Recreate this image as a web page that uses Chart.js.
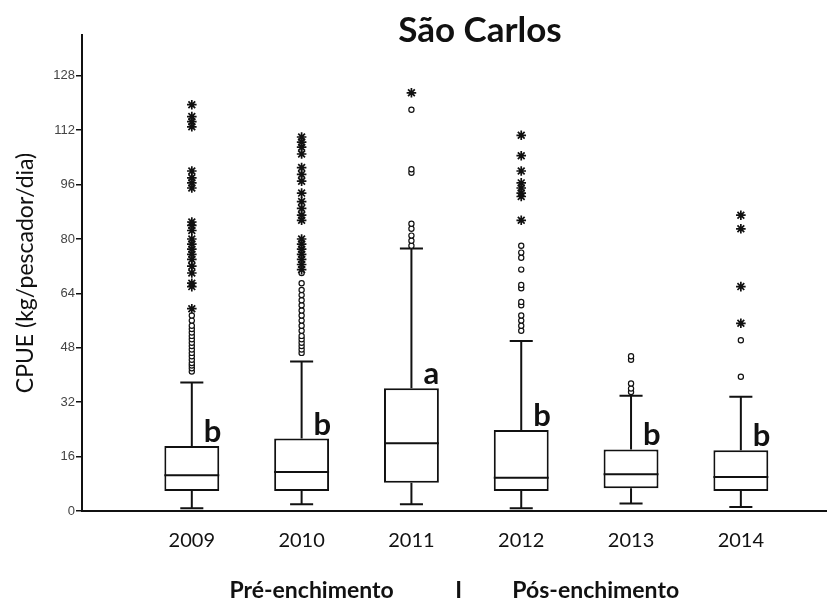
<!DOCTYPE html>
<html>
<head>
<meta charset="utf-8">
<script src="https://cdn.jsdelivr.net/npm/chart.js@4"></script>
<style>
  html, body { margin: 0; padding: 0; background: #fff; }
</style>
</head>
<body>
<canvas id="boxChart" width="833" height="608"></canvas>
<script>
// box statistics
var years = ['2009', '2010', '2011', '2012', '2013', '2014'];
var yTicks = [0, 16, 32, 48, 64, 80, 96, 112, 128];
var lowWhisker = [0.8, 2.0, 2.0, 0.8, 2.2, 1.2];
var q1 = [5.9, 5.9, 8.3, 5.9, 6.7, 5.9];
var median = [10.5, 11.5, 19.9, 9.8, 10.8, 10.0];
var q3 = [19.1, 21.3, 36.1, 23.8, 18.1, 17.9];
var highWhisker = [37.8, 44.0, 77.2, 50.0, 33.9, 33.6];
var letters = ['b', 'b', 'a', 'b', 'b', 'b'];

// outliers (o) and extremes (*) per year
var circleOut = [
  [41, 42, 42.8, 43.5, 44.5, 45.5, 46.5, 47.5, 48.5, 49.5, 50.5, 51.5, 52.5, 53.5, 54.5, 56, 57.5],
  [46.5, 47.5, 48.5, 49.5, 50.5, 51.5, 53, 54.5, 56, 57.5, 59, 60.5, 62, 63.5, 65, 67, 70],
  [78, 79.5, 81, 83, 84.5, 99.5, 100.5, 118],
  [53, 54.5, 56, 57.5, 60.5, 61.5, 65.5, 66.5, 71, 74.5, 76, 78],
  [35, 36, 37.5, 44.5, 45.5],
  [39.5, 50.2]
];
var starOut = [
  [59.5, 66, 67, 70, 72, 74, 75.5, 77, 78.5, 80, 82.5, 84, 85, 95, 96.5, 98, 100, 113, 114.5, 116, 119.5],
  [71, 72.5, 74, 75.5, 77, 78.5, 80, 85.5, 87, 89, 91, 93.5, 97, 99, 101, 105, 107, 108.5, 110],
  [123],
  [85.5, 92.5, 93.5, 95, 96.5, 100, 104.5, 110.5],
  [],
  [55.2, 66, 83, 87]
];

var ink = '#111';
var capHalf = 0.105;
var boxHalf = 0.25;

var boxes = years.map(function (y, i) { return { x: i + 1, y: [q1[i], q3[i]] }; });

var segs = [];
years.forEach(function (y, i) {
  var x = i + 1;
  var gap = { x: x, y: null };
  segs.push({ x: x - boxHalf, y: median[i] }, { x: x + boxHalf, y: median[i] }, gap);
  segs.push({ x: x, y: q3[i] }, { x: x, y: highWhisker[i] }, gap);
  segs.push({ x: x - capHalf, y: highWhisker[i] }, { x: x + capHalf, y: highWhisker[i] }, gap);
  segs.push({ x: x, y: q1[i] }, { x: x, y: lowWhisker[i] }, gap);
  segs.push({ x: x - capHalf, y: lowWhisker[i] }, { x: x + capHalf, y: lowWhisker[i] }, gap);
});

var circlePts = [];
var starPts = [];
years.forEach(function (y, i) {
  circleOut[i].forEach(function (v) { circlePts.push({ x: i + 1, y: v }); });
  starOut[i].forEach(function (v) { starPts.push({ x: i + 1, y: v }); });
});

var labelsPlugin = {
  id: 'labelsPlugin',
  afterDatasetsDraw: function (chart) {
    var c = chart.ctx;
    var xs = chart.scales.x, ys = chart.scales.y;
    c.save();
    c.fillStyle = ink;
    c.font = 'bold 31px Lato';
    c.textAlign = 'left';
    c.textBaseline = 'alphabetic';
    letters.forEach(function (l, i) {
      c.fillText(l, xs.getPixelForValue(i + 1) + 12, ys.getPixelForValue(q3[i]) - 4);
    });
    c.font = 'bold 35px Lato';
    c.textAlign = 'center';
    c.textBaseline = 'middle';
    c.fillText('São Carlos', 480, 31);
    c.restore();
  }
};

new Chart(document.getElementById('boxChart'), {
  type: 'bar',
  data: {
    datasets: [
      {
        type: 'bar',
        data: boxes,
        backgroundColor: '#fff',
        borderColor: ink,
        borderWidth: 2,
        borderSkipped: false,
        barPercentage: 0.5,
        categoryPercentage: 1,
        order: 3
      },
      {
        type: 'line',
        data: segs,
        borderColor: ink,
        borderWidth: 2,
        pointRadius: 0,
        spanGaps: false,
        fill: false,
        order: 2
      },
      {
        type: 'scatter',
        data: circlePts,
        pointStyle: 'circle',
        pointRadius: 2.6,
        borderWidth: 1.2,
        borderColor: ink,
        backgroundColor: '#fff',
        order: 1
      },
      {
        type: 'scatter',
        data: starPts,
        pointStyle: 'star',
        pointRadius: 4.8,
        borderWidth: 1.7,
        borderColor: ink,
        backgroundColor: ink,
        order: 0
      }
    ]
  },
  options: {
    responsive: false,
    animation: false,
    layout: { padding: { top: 35, right: 2, left: 0, bottom: 0 } },
    plugins: {
      legend: { display: false },
      tooltip: { enabled: false }
    },
    scales: {
      x: {
        type: 'linear',
        offset: false,
        min: 0,
        max: 6.78,
        afterFit: function (s) { s.height = 97; },
        afterBuildTicks: function (s) {
          s.ticks = years.map(function (y, i) { return { value: i + 1 }; });
        },
        ticks: {
          callback: function (v) { return years[v - 1]; },
          font: { family: 'Lato', size: 20 },
          color: ink,
          padding: 10,
          maxRotation: 0
        },
        grid: { display: false, offset: false },
        border: { display: true, color: ink, width: 2 },
        title: {
          display: true,
          text: 'Pré-enchimento           I         Pós-enchimento',
          font: { family: 'Lato', size: 23, weight: 'bold' },
          color: ink,
          padding: { top: 0, bottom: 4 }
        }
      },
      y: {
        min: 0,
        max: 140,
        afterFit: function (s) { s.width = 82; },
        afterBuildTicks: function (s) {
          s.ticks = yTicks.map(function (v) { return { value: v }; });
        },
        ticks: {
          font: { family: 'Liberation Sans', size: 13 },
          color: '#444',
          padding: 1
        },
        grid: {
          display: true,
          drawOnChartArea: false,
          drawTicks: true,
          tickLength: 6,
          color: ink,
          lineWidth: 1.5
        },
        border: { display: true, color: ink, width: 2 },
        title: {
          display: true,
          text: 'CPUE (kg/pescador/dia)',
          font: { family: 'Lato', size: 23 },
          color: ink,
          padding: { top: 12, bottom: 0 }
        }
      }
    }
  },
  plugins: [labelsPlugin]
});
</script>
</body>
</html>
